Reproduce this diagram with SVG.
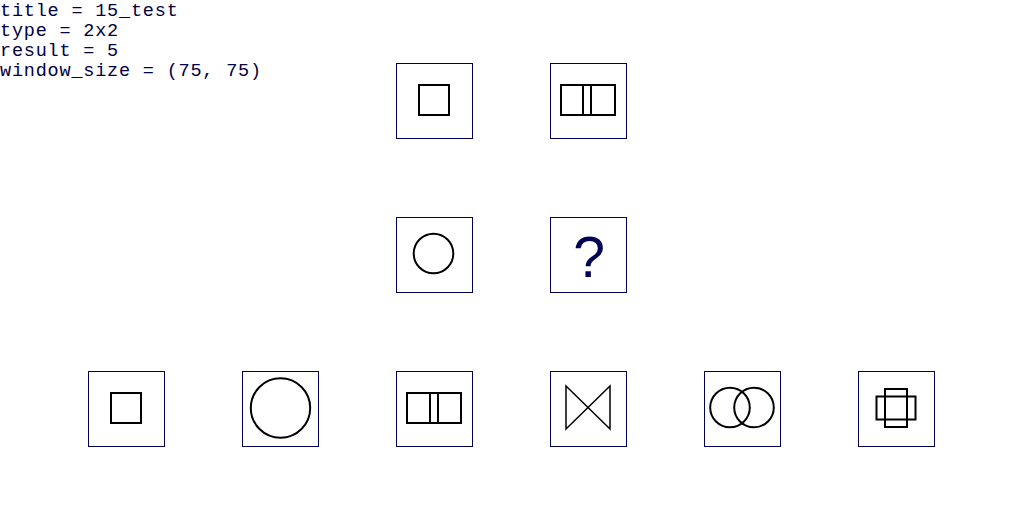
<svg xmlns="http://www.w3.org/2000/svg" width="1024" height="512" viewBox="0 0 1024 512">
<style>
.box{fill:#ffffff;stroke:#000055;stroke-width:1}
.sh{fill:none;stroke:#000000;stroke-width:2}
.th{fill:none;stroke:#000000;stroke-width:1.5}
.info{font-family:"Liberation Mono","DejaVu Sans Mono",monospace;font-size:18.5px;letter-spacing:0.8px;fill:#000044}
.q{font-family:"Liberation Sans",Arial,sans-serif;font-size:57px;fill:#000055;text-anchor:middle}
</style>
<rect width="1024" height="512" fill="#ffffff"/>
<g id="info">
<text class="info" x="0" y="16">title = 15_test</text>
<text class="info" x="0" y="36">type = 2x2</text>
<text class="info" x="0" y="56">result = 5</text>
<text class="info" x="0" y="76">window_size = (75, 75)</text>
</g>
<g id="q1">
<rect class="box" x="396.5" y="63.5" width="76" height="75"/>
<rect class="sh" x="419" y="85" width="30" height="30"/>
</g>
<g id="q2">
<rect class="box" x="550.5" y="63.5" width="76" height="75"/>
<rect class="sh" x="561" y="85" width="54" height="30"/>
<path class="sh" d="M583,85 V115 M591,85 V115"/>
</g>
<g id="q3">
<rect class="box" x="396.5" y="217.5" width="76" height="75"/>
<circle class="sh" cx="433.5" cy="253.5" r="19.8"/>
</g>
<g id="q4">
<rect class="box" x="550.5" y="217.5" width="76" height="75"/>
<text class="q" x="589" y="277">?</text>
</g>
<g id="a1">
<rect class="box" x="88.5" y="371.5" width="76" height="75"/>
<rect class="sh" x="111" y="393" width="30" height="30"/>
</g>
<g id="a2">
<rect class="box" x="242.5" y="371.5" width="76" height="75"/>
<circle class="sh" cx="280.5" cy="408" r="29.7"/>
</g>
<g id="a3">
<rect class="box" x="396.5" y="371.5" width="76" height="75"/>
<rect class="sh" x="407" y="393" width="54" height="30"/>
<path class="sh" d="M430,393 V423 M438,393 V423"/>
</g>
<g id="a4">
<rect class="box" x="550.5" y="371.5" width="76" height="75"/>
<path class="th" d="M566,386 L610,429 L610,386 L566,429 Z"/>
</g>
<g id="a5">
<rect class="box" x="704.5" y="371.5" width="76" height="75"/>
<circle class="sh" cx="730" cy="407.5" r="19.8"/>
<circle class="sh" cx="754" cy="407.5" r="19.8"/>
</g>
<g id="a6">
<rect class="box" x="858.5" y="371.5" width="76" height="75"/>
<rect class="sh" x="885" y="389" width="22" height="38"/>
<rect class="sh" x="876.5" y="396.5" width="39" height="23"/>
</g>
<g id="connectors"></g>
</svg>
